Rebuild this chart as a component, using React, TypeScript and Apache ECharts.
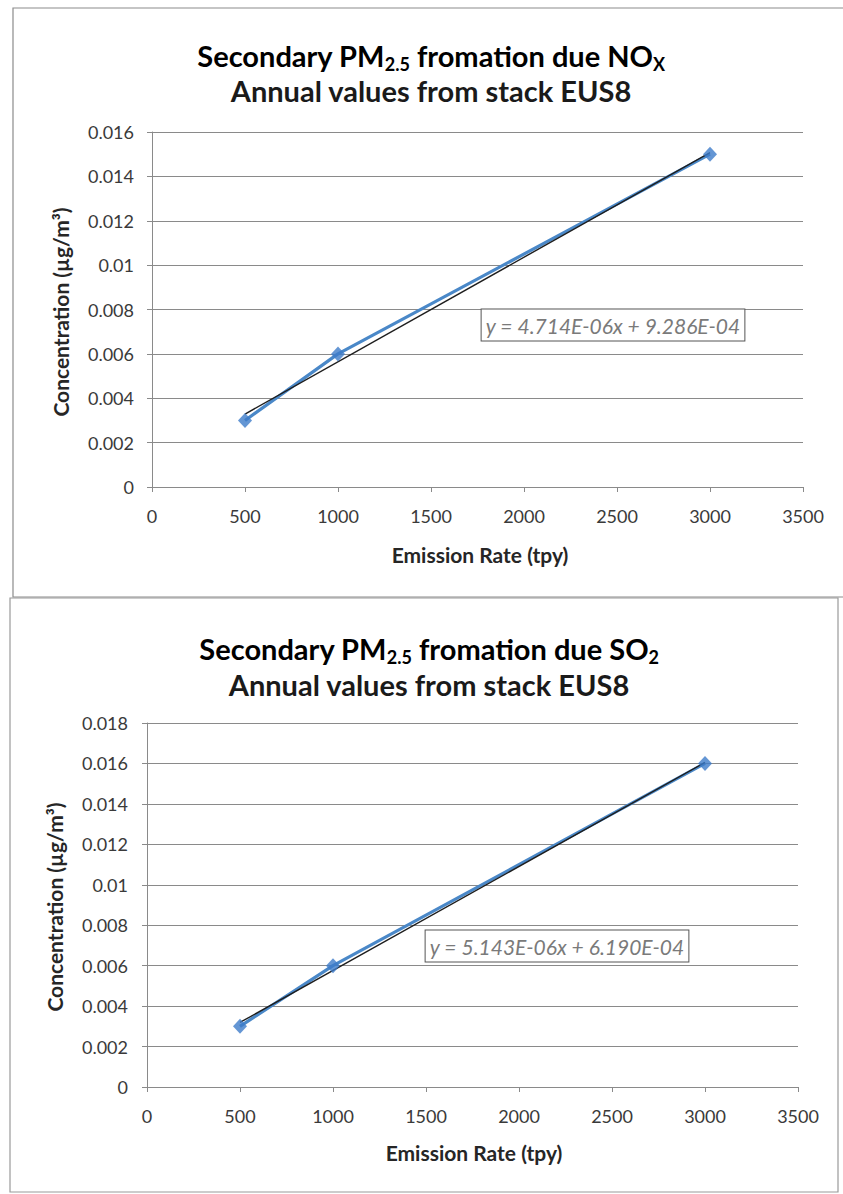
import React, { useEffect, useRef } from "react";
import * as echarts from "echarts";

// Emission rates (tpy) and modelled annual concentrations (µg/m³)
const emissionRates = [500, 1000, 3000];
const noxConcentration = [0.003, 0.006, 0.015];
const so2Concentration = [0.003, 0.006, 0.016];

// Linear trendline coefficients
const noxSlope = 4.714e-6;
const noxIntercept = 9.286e-4;
const so2Slope = 5.143e-6;
const so2Intercept = 6.19e-4;

// Axis scales
const xMin = 0;
const xMax = 3500;
const xInterval = 500;
const yInterval = 0.002;
const noxYMax = 0.016;
const so2YMax = 0.018;

const xTitle = "Emission Rate (tpy)";
const yTitle = "Concentration (µg/m³)";
const subTitle = "Annual values from stack EUS8";

const FONT = "Lato, 'Open Sans', sans-serif";
const GRID_COLOR = "#8a8a8a";
const BLUE = "#4a88c8";
const MARKER_BLUE = "#3d7cc9";
const TEXT_DARK = "#1a1a1a";

function sci(v: number): string {
  const [m, e] = v.toExponential(3).split("e");
  const n = parseInt(e, 10);
  return `${m}E${n < 0 ? "-" : "+"}${String(Math.abs(n)).padStart(2, "0")}`;
}

function equation(slope: number, intercept: number): string {
  return `y = ${sci(slope)}x + ${sci(intercept)}`;
}

function trend(slope: number, intercept: number): number[][] {
  const x0 = emissionRates[0];
  const x1 = emissionRates[emissionRates.length - 1];
  return [
    [x0, slope * x0 + intercept],
    [x1, slope * x1 + intercept],
  ];
}

function pairs(ys: number[]): number[][] {
  return emissionRates.map((x, i) => [x, ys[i]]);
}

function xAxisFor(gridIndex: number) {
  return {
    type: "value",
    gridIndex,
    min: xMin,
    max: xMax,
    interval: xInterval,
    axisLine: { show: true, lineStyle: { color: GRID_COLOR, width: 1 } },
    axisTick: { show: true, inside: false, length: 5, lineStyle: { color: GRID_COLOR } },
    axisLabel: {
      fontFamily: FONT,
      fontSize: 18,
      color: "#3a3a3a",
      margin: 20,
      formatter: (v: number) => String(v),
    },
    splitLine: { show: false },
  };
}

function yAxisFor(gridIndex: number, max: number, margin: number) {
  return {
    type: "value",
    gridIndex,
    min: 0,
    max,
    interval: yInterval,
    axisLine: { show: true, lineStyle: { color: GRID_COLOR, width: 1 } },
    axisTick: { show: true, inside: false, length: 5, lineStyle: { color: GRID_COLOR } },
    axisLabel: {
      fontFamily: FONT,
      fontSize: 18,
      color: "#3a3a3a",
      margin,
      formatter: (v: number) => (v === 0 ? "0" : String(+v.toFixed(3))),
    },
    splitLine: { show: true, lineStyle: { color: GRID_COLOR, width: 1 } },
  };
}

function seriesFor(idx: number, ys: number[], slope: number, intercept: number) {
  return [
    {
      type: "line",
      xAxisIndex: idx,
      yAxisIndex: idx,
      data: pairs(ys),
      showSymbol: false,
      lineStyle: { color: BLUE, width: 3.2 },
      z: 2,
    },
    {
      type: "line",
      xAxisIndex: idx,
      yAxisIndex: idx,
      data: trend(slope, intercept),
      showSymbol: false,
      lineStyle: { color: "#1e1e1e", width: 1.4 },
      z: 3,
    },
    {
      type: "scatter",
      xAxisIndex: idx,
      yAxisIndex: idx,
      data: pairs(ys),
      symbol: "diamond",
      symbolSize: [14, 15],
      itemStyle: { color: MARKER_BLUE },
      z: 4,
    },
  ];
}

function titleRich(gas: string, gasSub: string) {
  return {
    text: `{t|Secondary PM}{s|2.5}{t| fromation due ${gas}}{s|${gasSub}}`,
    rich: {
      t: { fontFamily: FONT, fontWeight: "bold", fontSize: 29, lineHeight: 35, color: TEXT_DARK, verticalAlign: "middle" },
      s: { fontFamily: FONT, fontWeight: "bold", fontSize: 18, lineHeight: 12, color: TEXT_DARK, verticalAlign: "bottom" },
    },
  };
}

function plainTitle(x: number, y: number) {
  return {
    type: "text",
    x,
    y,
    style: {
      text: subTitle,
      fontFamily: FONT,
      fontWeight: "bold",
      fontSize: 29,
      lineHeight: 30,
      fill: TEXT_DARK,
      align: "center",
      verticalAlign: "middle",
    },
  };
}

function axisTitle(text: string, x: number, y: number, vertical: boolean) {
  return {
    type: "text",
    x,
    y,
    rotation: vertical ? Math.PI / 2 : 0,
    style: {
      text,
      fontFamily: FONT,
      fontWeight: "bold",
      fontSize: 21,
      fill: "#262626",
      align: "center",
      verticalAlign: "middle",
    },
  };
}

function equationBox(text: string, x: number, y: number) {
  return {
    type: "text",
    x,
    y,
    z: 10,
    style: {
      text,
      fontFamily: FONT,
      fontStyle: "italic",
      fontSize: 21,
      fill: "#7a7a7a",
      align: "center",
      verticalAlign: "middle",
      backgroundColor: "#ffffff",
      borderColor: "#555555",
      borderWidth: 1,
      padding: [5, 4, 5, 4],
    },
  };
}

export default function App() {
  const ref = useRef<HTMLDivElement>(null);

  useEffect(() => {
    if (!ref.current) return;
    const chart = echarts.init(ref.current, undefined, { renderer: "svg" });

    const option = {
      animation: false,
      backgroundColor: "#ffffff",
      grid: [
        { left: 152, top: 132, width: 651, height: 355, containLabel: false },
        { left: 147, top: 723, width: 651, height: 364, containLabel: false },
      ],
      xAxis: [xAxisFor(0), xAxisFor(1)],
      yAxis: [yAxisFor(0, noxYMax, 18), yAxisFor(1, so2YMax, 19)],
      series: [
        ...seriesFor(0, noxConcentration, noxSlope, noxIntercept),
        ...seriesFor(1, so2Concentration, so2Slope, so2Intercept),
      ],
      graphic: [
        {
          type: "rect",
          shape: { x: 13, y: 8, width: 840, height: 589 },
          style: { fill: "none", stroke: "#8c8c8c", lineWidth: 1.2 },
          silent: true,
        },
        {
          type: "rect",
          shape: { x: 10, y: 598, width: 828, height: 594 },
          style: { fill: "none", stroke: "#9a9a9a", lineWidth: 1.2 },
          silent: true,
        },
        {
          type: "text",
          x: 431,
          y: 55,
          style: { ...titleRich("NO", "X"), align: "center", verticalAlign: "middle" },
        },
        plainTitle(431, 90),
        {
          type: "text",
          x: 429,
          y: 648,
          style: { ...titleRich("SO", "2"), align: "center", verticalAlign: "middle" },
        },
        plainTitle(429, 684),
        axisTitle(xTitle, 480, 554, false),
        axisTitle(xTitle, 474, 1152, false),
        axisTitle(yTitle, 60, 312, true),
        axisTitle(yTitle, 54, 907, true),
        equationBox(equation(noxSlope, noxIntercept), 613, 325),
        equationBox(equation(so2Slope, so2Intercept), 557, 946),
      ],
    };

    chart.setOption(option as any);
    return () => chart.dispose();
  }, []);

  return (
    <div
      ref={ref}
      style={{ position: "absolute", left: 0, top: 0, width: 843, height: 1194, background: "#fff" }}
    />
  );
}
